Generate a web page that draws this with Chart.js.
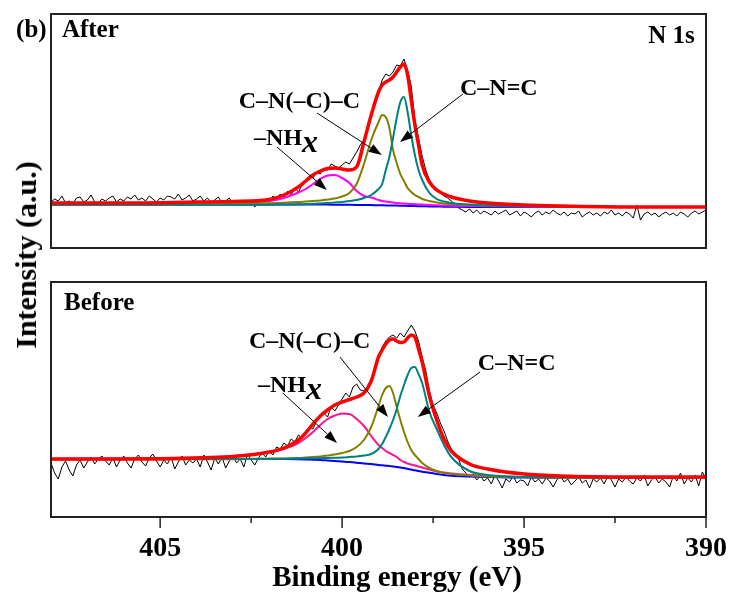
<!DOCTYPE html>
<html>
<head>
<meta charset="utf-8">
<script src="https://cdn.jsdelivr.net/npm/chart.js@4.4.0/dist/chart.umd.min.js"></script>
<style>
html,body{margin:0;padding:0;background:#fff;}
#wrap{position:relative;width:733px;height:593px;overflow:hidden;background:#fff;}
#c1{position:absolute;left:0;top:0;}
#c2{position:absolute;left:0;top:270px;}
#ytitle{position:absolute;left:26px;top:255px;transform:translate(-50%,-50%) rotate(-90deg);
  font:bold 30px "Liberation Serif","Times New Roman",serif;white-space:nowrap;line-height:1;color:#000;}
#xtitle{position:absolute;left:397px;top:576px;transform:translate(-50%,-50%);
  font:bold 29px "Liberation Serif","Times New Roman",serif;white-space:nowrap;line-height:1;color:#000;}
</style>
</head>
<body>
<div id="wrap">
  <canvas id="c1" width="733" height="260"></canvas>
  <canvas id="c2" width="733" height="323"></canvas>
  <div id="ytitle">Intensity (a.u.)</div>
  <div id="xtitle"></div>
</div>
<script>
// ---------------- DATA ----------------
// Raw spectra: binding energy grid from 408.0 eV down to 390.0 eV in 0.1 eV steps
const rawStartEV = 408.0;
const rawStepEV = 0.1;
const afterRaw = [
 46,49,47,52,45,47,44,50,51,46,
 48,53,46,45,49,47,50,52,46,49,
 47,51,49,53,48,50,47,52,49,46,
 50,48,52,51,49,54,48,50,53,47,
 49,52,47,50,46,48,51,45,47,50,
 44,47,42,46,43,48,41,46,49,47,
 46,52,49,54,50,57,53,60,56,63,
 66,72,70,76,74,80,78,84,82,80,
 83,86,84,90,96,103,108,120,132,146,
 156,168,174,172,176,183,182,189,178,162,
 128,110,92,78,68,62,58,55,52,50,
 47,44,40,38,36,39,35,38,34,37,
 35,33,37,34,36,38,33,35,37,32,
 36,34,31,35,37,33,36,34,38,35,
 33,36,32,35,34,37,31,34,36,33,
 35,32,36,34,38,33,35,32,36,34,
 30,43,28,34,36,33,35,31,34,36,
 33,35,32,36,34,31,35,37,34,36,
 38];
const beforeRaw = [
 54,44,38,50,56,47,41,52,57,49,
 55,60,53,58,61,56,52,59,50,57,
 61,54,49,58,62,55,51,59,63,56,
 50,57,53,60,48,55,61,52,57,54,
 58,50,62,55,47,59,53,60,49,56,
 61,54,58,50,63,57,52,59,64,60,
 66,62,70,68,74,71,78,75,82,79,
 86,90,88,96,99,104,100,110,106,112,
 118,124,120,130,133,127,126,128,134,146,
 160,170,176,180,182,179,184,180,186,192,
 186,176,160,146,126,112,104,94,86,76,
 68,62,58,48,44,40,43,37,41,36,
 39,33,42,36,29,38,35,41,34,37,
 36,31,40,35,38,33,39,36,30,37,
 41,35,38,32,36,40,34,37,29,38,
 35,39,33,41,37,30,38,35,40,36,
 33,39,36,42,31,37,40,34,38,35,
 30,41,36,44,33,39,35,42,31,45,
 38];

// Fitted components (sampled on fitEnergy)
const fitEnergy = [408,406,404,403,402,401.6,401.2,401.0,400.8,400.6,
 400.4,400.2,400.0,399.8,399.6,399.4,399.2,399.0,398.9,398.8,
 398.7,398.6,398.5,398.4,398.3,398.2,398.1,398.0,397.9,397.8,
 397.6,397.4,397.2,397.0,396.5,396.0,395.0,394.0,392.0,390.0];

const afterEnvelope = [45,45,46,46.5,48.5,53,61,67,73,77,
 79.5,80,79,78,81,106,133,156,163,166,
 168,171,176,181,184,173,148,123,103,83,
 66,58,54,51,47,45,43,42,41,41];
const afterCNN = [43.5,43.7,44,44.2,44.8,45.3,46,46.5,47,47.5,
 48.5,49.5,51.5,55,64,84,108,126,133,131,
 120,98,85,74,67,60,56,53,51,49,
 47,45.5,44.5,44,43,42.5,42,41.5,41,41];
const afterCNC = [43,43,43,43,43.2,43.4,43.7,44,44.2,44.6,
 45,45.5,46,47,48,50,53,59,64,78,
 91,110,130,146,151,136,113,93,78,68,
 55,49,46.5,45,43.5,42.5,41.7,41.4,41,41];
const afterNHx = [44,44,44.5,45,47,50,55.5,59,64,69,
 72.5,73,70,65,57,52,50.5,48,47,46.5,
 46,45.5,45,44.7,44.4,44.2,44,43.8,43.6,43.4,
 43,42.7,42.5,42.3,42,41.7,41.4,41.2,41,41];
const afterBackground = [43.5,43.5,43.5,43.5,43.5,43.5,43.5,43.5,43.4,43.4,
 43.4,43.3,43.3,43.2,43.1,43,42.9,42.8,42.7,42.6,
 42.5,42.4,42.4,42.3,42.2,42.1,42,41.9,41.85,41.8,
 41.6,41.5,41.3,41.2,41,41,41,41,41,41];

const beforeEnvelope = [58,58,59,60.5,65,69,77,84,93,101,
 107,112,115,117.5,120,124,136,160,167,173,
 177,178,176,174.5,175,179,182,180,168,155,
 121,97,78,66,53,48,43,41,40,40];
const beforeCNN = [57.5,57.5,57.7,57.8,58.2,58.5,59,59.5,60,60.5,
 61.5,62.5,64,66,70,77,90,111,122,129,
 131,124,110,97,85,75,67,62,58,54,
 49,46,44,43,41.5,40.5,40,39.5,39.5,39.5];
const beforeCNC = [58,58,58,58,58.2,58.3,58.5,58.6,58.7,58.9,
 59,59.2,59.5,60,60.5,61.5,63,68,73,80,
 88,97,108,121,132,142,149,150,143,134,
 105,88,72,60,46,42,40,39.5,39.5,39.5];
const beforeNHx = [58,58.5,59.5,61,65,68,74,79,85,92,
 98,101.5,103.5,103,98,91,81,72,69,66,
 64,62,60,57,55,53.5,52.5,51.5,50.5,49.5,
 47.5,45.5,44.5,43.5,42,41,40,39.5,39.5,39.5];
const beforeBackground = [58,58,58,58,58,58,57.8,57.6,57.3,57,
 56.5,56,55.5,55,54.3,53.5,53,52,51.7,51.3,
 51,50.5,50,49.5,49,48.2,47.5,46.7,46,45.3,
 44.3,43,42,41.3,40.5,40,39.5,39.5,39.5,39.5];

// Axis
const xMin = 390, xMax = 408, xStep = 2.5;
const xLabelledTicks = [405, 400, 395, 390];
const xTitle = 'Binding energy (eV)';
document.getElementById('xtitle').textContent = xTitle;

// Annotations (data coordinates: eV, intensity)
const afterLabels = [
  {text:'(b)', e:408.96, v:211, size:25},
  {text:'After', e:407.70, v:211, size:25},
  {text:'N 1s', e:390.31, v:205, size:25, align:'right'},
  {text:'C–N(–C)–C', e:402.84, v:140, size:24},
  {text:'–NH', sub:'x', e:402.42, v:103, size:24},
  {text:'C–N=C', e:396.76, v:153, size:24}
];
const afterArrows = [
  {from:[401.79,101], to:[400.42,58]},
  {from:[400.69,135], to:[398.91,93]},
  {from:[396.68,154], to:[398.41,106]}
];
const beforeLabels = [
  {text:'Before', e:407.64, v:207, size:25},
  {text:'C–N(–C)–C', e:402.56, v:169, size:24},
  {text:'–NH', sub:'x', e:402.31, v:125, size:24},
  {text:'C–N=C', e:396.27, v:147, size:24}
];
const beforeArrows = [
  {from:[401.63,124], to:[400.14,74]},
  {from:[400.06,160], to:[398.74,100]},
  {from:[396.21,145], to:[397.92,100]}
];

// ---------------- BUILD ----------------
const FONT = '"Liberation Serif","Times New Roman",serif';
function rawPoints(vals){ return vals.map((v,i)=>({x: +(rawStartEV - i*rawStepEV).toFixed(1), y: v})); }
function fitPoints(vals){ return vals.map((v,i)=>({x: fitEnergy[i], y: v})); }

function fitDS(vals, color, width, order){
  return {data: fitPoints(vals), borderColor: color, borderWidth: width, pointRadius: 0,
          cubicInterpolationMode: 'monotone', fill: false, order: order};
}
function rawDS(vals){
  return {data: rawPoints(vals), borderColor: '#000', borderWidth: 1, pointRadius: 0,
          tension: 0, fill: false, order: 6};
}

const boxPlugin = {
  id: 'box',
  afterDraw(chart){
    const a = chart.chartArea, ctx = chart.ctx;
    ctx.save();
    ctx.strokeStyle = '#222'; ctx.lineWidth = 2;
    ctx.strokeRect(a.left, a.top, a.right - a.left, a.bottom - a.top);
    const xs = chart.scales.x;
    if (xs && xs.options.display) {
      ctx.lineWidth = 1.5; ctx.strokeStyle = '#222';
      xs.ticks.forEach(t => {
        const px = xs.getPixelForValue(t.value);
        const len = xLabelledTicks.includes(t.value) ? 11 : 6;
        ctx.beginPath(); ctx.moveTo(px, a.bottom); ctx.lineTo(px, a.bottom + len); ctx.stroke();
      });
    }
    ctx.restore();
  }
};

const annotatePlugin = {
  id: 'annotate',
  afterDraw(chart, args, opts){
    const ctx = chart.ctx, xs = chart.scales.x, ys = chart.scales.y;
    ctx.save();
    ctx.fillStyle = '#000'; ctx.strokeStyle = '#000';
    (opts.arrows || []).forEach(ar => {
      const x1 = xs.getPixelForValue(ar.from[0]), y1 = ys.getPixelForValue(ar.from[1]);
      const x2 = xs.getPixelForValue(ar.to[0]), y2 = ys.getPixelForValue(ar.to[1]);
      const ang = Math.atan2(y2 - y1, x2 - x1);
      const hl = 13, hw = 4.5;
      const bx = x2 - hl*Math.cos(ang), by = y2 - hl*Math.sin(ang);
      ctx.lineWidth = 1;
      ctx.beginPath(); ctx.moveTo(x1, y1); ctx.lineTo(bx, by); ctx.stroke();
      ctx.beginPath(); ctx.moveTo(x2, y2);
      ctx.lineTo(bx + hw*Math.sin(ang), by - hw*Math.cos(ang));
      ctx.lineTo(bx - hw*Math.sin(ang), by + hw*Math.cos(ang));
      ctx.closePath(); ctx.fill();
    });
    (opts.labels || []).forEach(l => {
      const x = xs.getPixelForValue(l.e), y = ys.getPixelForValue(l.v);
      ctx.font = 'bold ' + l.size + 'px ' + FONT;
      ctx.textBaseline = 'alphabetic';
      ctx.textAlign = l.align || 'left';
      ctx.fillText(l.text, x, y);
      if (l.sub) {
        const w = ctx.measureText(l.text).width;
        ctx.font = 'italic bold ' + (l.size + 8) + 'px ' + FONT;
        ctx.textAlign = 'left';
        ctx.fillText(l.sub, x + w, y + 7);
      }
    });
    ctx.restore();
  }
};

function makeChart(id, datasets, opts){
  return new Chart(document.getElementById(id), {
    type: 'line',
    data: {datasets},
    options: {
      responsive: false, animation: false, events: [],
      layout: {padding: opts.padding},
      plugins: {legend: {display: false}, tooltip: {enabled: false},
        annotate: {labels: opts.labels, arrows: opts.arrows}},
      scales: {
        x: Object.assign({type: 'linear', min: xMin, max: xMax, reverse: true}, opts.x),
        y: {display: false, min: 0, max: opts.yMax}
      }
    },
    plugins: [boxPlugin, annotatePlugin]
  });
}

makeChart('c1', [
  fitDS(afterEnvelope, '#ff0000', 3.5, 0),
  fitDS(afterCNC, '#008080', 2, 1),
  fitDS(afterCNN, '#808000', 2, 2),
  fitDS(afterNHx, '#ff00ff', 2, 3),
  fitDS(afterBackground, '#0000ff', 2, 4),
  rawDS(afterRaw)
], {padding: {left: 51, right: 27, top: 14, bottom: 12}, yMax: 234,
    labels: afterLabels, arrows: afterArrows, x: {display: false}});

makeChart('c2', [
  fitDS(beforeEnvelope, '#ff0000', 3.5, 0),
  fitDS(beforeCNC, '#008080', 2, 1),
  fitDS(beforeCNN, '#808000', 2, 2),
  fitDS(beforeNHx, '#ff1493', 2, 3),
  fitDS(beforeBackground, '#0000ff', 2, 4),
  rawDS(beforeRaw)
], {padding: {left: 51, right: 27, top: 12, bottom: 0}, yMax: 235,
    labels: beforeLabels, arrows: beforeArrows,
    x: {display: true,
        grid: {display: false, drawTicks: false},
        border: {display: false},
        afterBuildTicks(scale){ scale.ticks = scale.ticks.filter(t => Math.abs(t.value/xStep - Math.round(t.value/xStep)) < 1e-6); },
        afterFit(scale){ scale.height = 76; scale.paddingLeft = 0; scale.paddingRight = 0; },
        ticks: {stepSize: xStep, padding: 15, color: '#000', maxRotation: 0, autoSkip: false,
          font: {family: FONT, size: 28, weight: 'bold'},
          callback: v => xLabelledTicks.includes(v) ? String(v) : ''},
        title: {display: false}
    }});
</script>
</body>
</html>
